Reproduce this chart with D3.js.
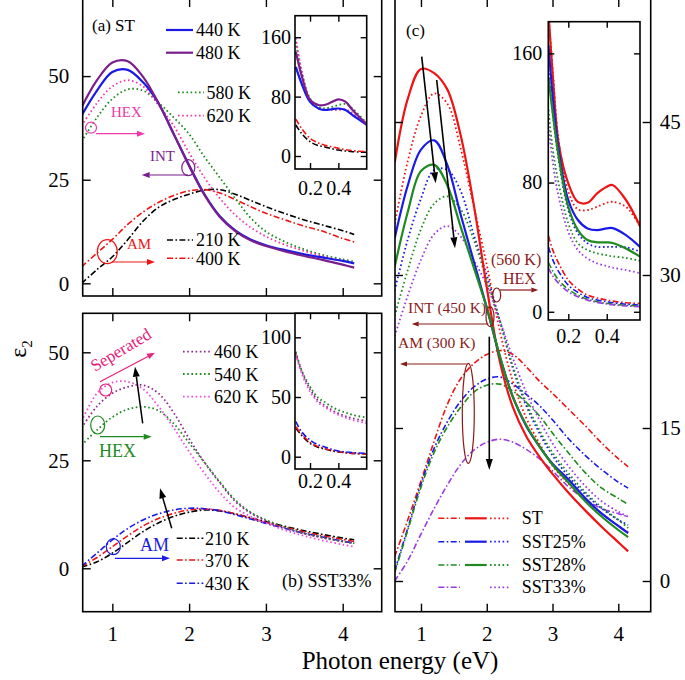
<!DOCTYPE html>
<html><head><meta charset="utf-8">
<script src="https://cdn.jsdelivr.net/npm/d3@7"></script>
<style>body{margin:0;background:#fff} svg text{font-family:"Liberation Serif","DejaVu Serif",serif !important}</style>
</head><body><svg id="c" width="685" height="680"></svg>
<script>
// ---------- DATA ----------
const xMain = [0.6,0.8,1.0,1.2,1.4,1.6,1.8,2.0,2.2,2.4,2.6,2.8,3.0,3.25,3.5,3.75,4.0,4.15];
// panel (a) ST
const a440 = [40.5,46.5,51,51.5,48.5,43.5,36,28.5,21.5,16.2,12.8,10.6,9.2,8,7,6.2,5.4,4.8];
const a480 = [42.5,49,53.3,53.6,49.8,43.5,36,28.3,21.3,16,12.6,10.4,9,7.7,6.6,5.6,4.5,3.8];
const a580 = [34.2,40,44.5,46.8,46.5,43.6,40,36,30.5,25.5,20.5,15.8,12.5,10,8.2,6.8,5.8,5.2];
const a620 = [38,43.5,47.5,49,47.5,43,38,31.5,25.5,20.5,16.5,13.5,11.3,9.3,7.8,6.5,5.4,4.8];
const a210 = [0,3.3,6.4,10.5,15,18.3,20.2,21.5,22.5,22.6,21.5,20,18.5,16.8,15.3,14,12.7,11.8];
const a400 = [4,7.3,10.6,14.2,17.2,19.5,21.2,22.3,22.6,21.8,20.2,18.5,16.9,15.3,13.8,12.5,10.8,10];
// panel (b) SST33%
const b460 = [32.5,37.5,40.5,42,42.4,40.5,36,30,24.5,19.8,15.5,12.8,11,9.3,8,7,6.2,5.8];
const b540 = [28.5,32,35,36.8,37.4,36.5,33.5,29,24.5,20,15.8,13,11.2,9.5,8.1,7.1,6.2,5.8];
const b620 = [34,40.5,43,43.2,41.5,37.5,32.5,27,22,17.5,14,12,10.5,8.8,7.5,6.4,5.5,5];
const b210 = [0.3,1.5,3.5,6,8.5,10.5,12,13,13.5,13.3,12.6,11.7,10.8,9.7,8.7,7.8,7,6.6];
const b370 = [0.4,2.5,5,7.5,9.8,11.5,12.7,13.5,13.7,13.4,12.6,11.6,10.6,9.5,8.4,7.5,6.7,6.2];
const b430 = [0.5,3.5,6.6,9.2,11.2,12.6,13.5,13.9,13.8,13.3,12.4,11.4,10.4,9.2,8.1,7.2,6.3,5.8];
// panel (c): AM (300 K) dash-dot, INT (450 K) solid, HEX (560 K) dotted
const cST_AM  = [2.4,6,9.8,13.7,17.3,19.8,21.3,22.2,22.6,22.2,21,19.6,18.4,16.8,15.2,13.5,12,11.2];
const c25_AM  = [1,5.2,9.5,13,15.6,17.6,19,19.8,20,19.3,18.3,17.2,15.8,13.9,12.3,10.9,9.7,9.1];
const c28_AM  = [0.8,5,9.2,12.6,15.1,17,18.5,19.2,19.3,18.6,17.5,16.2,14.5,12.5,10.6,9.1,8.1,7.5];
const c33_AM  = [0,2,4.6,7.1,9.4,11.4,12.8,13.6,13.9,13.6,12.9,12,10.8,9.2,8,7.1,6.6,6.3];
const cST_INT = [41,47.3,50.2,49.8,48.2,43.8,37,28.8,21.5,17,14.2,12.2,10.5,8.6,6.9,5.3,3.8,2.9];
const c25_INT = [33.6,38.8,42.3,43.2,40.8,36,31.4,26.8,22,18,15.2,13.2,11.5,9.9,8.1,6.6,5.4,4.7];
const c28_INT = [30.8,36.2,40.2,40.8,38.8,34.8,30.8,26.8,22,18,15.3,13.2,11.4,9.6,7.8,6.3,5,4.3];
const cST_HEX = [35,41.2,45.6,47.8,46.8,42.5,36.8,31,24.5,19.5,16,13.5,11.3,9.5,7.9,6.6,5.4,4.8];
const c25_HEX = [28.5,33.5,37.5,40.3,40.3,38.3,34,30,25.5,20.8,17.2,14.5,12.3,10.2,8.5,7.1,6,5.5];
const c28_HEX = [26,30.5,34.5,37,37.7,36.5,33.5,29.5,25.5,21,17.5,14.8,12.6,10.5,8.7,7.2,6,5.2];
const c33_HEX = [24,28,31.5,34,34.8,33.8,31.5,29,25.5,21.8,18.5,15.8,13.5,11.2,9.3,7.8,6.8,6.3];
// insets (a) and (b)
const xIns = [0.1,0.14,0.2,0.26,0.3,0.35,0.4,0.45,0.5,0.6];
const ia440 = [120,98,73,64,62,63,64,62,55,42];
const ia480 = [140.6,109,75.5,68.7,68.7,72.3,76.4,73.2,62,42.7];
const ia580 = [154,113.6,77.7,66.4,64,66,68.7,70,64,44];
const ia620 = [158.6,116,75.5,64,62,62,62,63,57.5,44];
const ia210 = [41.8,30.5,19.3,14,12.6,10,8,6.8,5.8,5];
const ia400 = [49.8,37.3,23.8,17.5,14.8,12.5,10.3,8.5,7.2,5.8];
const ib460 = [86.6,72,56.7,46.5,43.3,39.5,36.3,34,32.2,29.9];
const ib540 = [88,72.6,58.6,49,46,42,39,37,35,32.7];
const ib620 = [85.2,70,54.5,45,41.9,38,35,32.8,30.7,28];
const ib210 = [23.8,18,11.2,7.8,6.5,5,4,3.3,2.8,2.3];
const ib370 = [25.1,19,12,8.3,7,5.4,4.2,3.4,2.8,2.3];
const ib430 = [29.3,21,14,9.8,8.4,6.3,4.8,4,3.4,2.8];
// inset (c)
const xInsC = [0.097,0.12,0.15,0.2,0.25,0.3,0.35,0.4,0.43,0.5,0.575];
const icST_INT = [185,145,104,79.5,68,67.5,73.3,77.4,78.5,69.2,52.6];
const icST_HEX = [185,148,106,74.3,63.4,63,65,67.5,68.1,65,52.6];
const ic25_INT = [165,132,100,69.2,56.8,51.6,50.6,51.6,51.8,47.5,39.9];
const ic25_HEX = [150,122,94,63,48.5,42.4,40.2,40.2,40.2,39.9,37.2];
const ic28_INT = [145,122,96,65,50.6,44.4,43,43,42.6,39.2,34];
const ic28_HEX = [125,100,79.5,54.7,42.4,38.2,36.2,35,34.3,33.3,31.6];
const ic33_HEX = [115,92,71.2,49.5,38.2,33,30,28.3,27.3,25.8,23.8];
const icST_AM = [47,38,30,19.6,14,10.3,8.5,7.2,6.6,5.6,5.2];
const ic25_AM = [40,32,24.8,16.5,12,8.9,7.3,6.2,5.6,4.7,4.1];
const ic28_AM = [30.5,25,19.6,13.9,10.3,7.7,6.2,5.2,4.7,4,3.5];
const ic33_AM = [27,22,17.6,12.4,9.3,7.2,5.8,4.8,4.3,3.6,3.1];
// ticks & labels
const xTicks = [1,2,3,4];
const yTicksAB = [0,25,50];
const yTicksC = [0,15,30,45];
const insX = [0.2,0.4];
const insYA = [0,80,160], insYB = [0,50,100], insYC = [0,80,160];
const legA1 = ["440 K","480 K"], legA2 = ["580 K","620 K"], legA3 = ["210 K","400 K"];
const legB1 = ["460 K","540 K","620 K"], legB2 = ["210 K","370 K","430 K"];
const legC = ["ST","SST25%","SST28%","SST33%"];

// ---------- DRAW ----------
const FONT = "Liberation Serif";
const svg = d3.select("#c");
svg.append("rect").attr("width",685).attr("height",680).attr("fill","#fff");
const COL = {blue:"#1a1ae8", purA:"#7a1e8e", green:"#1f8a1f", pink:"#ee3aa6", red:"#ee1414", black:"#000",
  purB:"#8a2a8a", mag:"#f04ce0", vio:"#9b3ae0", dred:"#8b1a1a", sep:"#e8207a"};
const STY = {solid:{w:2.2,d:null}, dot:{w:1.8,d:"1.6,2.6"}, dd:{w:1.6,d:"6,2.4,1.6,2.4"}};
let clipN = 0;
function clipG(box){
  const id = "cl"+(clipN++);
  svg.append("clipPath").attr("id",id).append("rect")
    .attr("x",box.l).attr("y",box.t).attr("width",box.r-box.l).attr("height",box.b-box.t);
  return svg.append("g").attr("clip-path",`url(#${id})`);
}
function series(g, xs, ys, xa, ya, color, st){
  const line = d3.line().x(d=>xs(d[0])).y(d=>ys(d[1])).curve(d3.curveCatmullRom.alpha(0.5));
  const p = g.append("path").attr("d", line(xa.map((v,i)=>[v,ya[i]])))
    .attr("fill","none").attr("stroke",color).attr("stroke-width",STY[st].w);
  if (STY[st].d) p.attr("stroke-dasharray",STY[st].d);
}
function axes(box, xs, ys, xt, yt, o){
  const tl = o.tick, fs = o.fs;
  const mk = (tr, ax) => {
    const g = svg.append("g").attr("transform",tr).call(ax);
    g.attr("font-family",FONT).attr("font-size",fs);
    g.select(".domain").remove();
    g.selectAll("line").attr("stroke","#000").attr("stroke-width",1.4);
    g.selectAll("text").attr("fill","#000");
    return g;
  };
  mk(`translate(0,${box.b})`, d3.axisBottom(xs).tickValues(xt).tickSize(-tl).tickPadding(o.padB||0).tickFormat(o.labB?o.fx:""));
  mk(`translate(0,${box.t})`, d3.axisTop(xs).tickValues(xt).tickSize(-tl).tickFormat(""));
  mk(`translate(${box.l},0)`, d3.axisLeft(ys).tickValues(yt).tickSize(-tl).tickPadding(o.padL||0).tickFormat(o.labL?d3.format("d"):""));
  mk(`translate(${box.r},0)`, d3.axisRight(ys).tickValues(yt).tickSize(-tl).tickPadding(o.padR||0).tickFormat(o.labR?d3.format("d"):""));
  svg.append("rect").attr("x",box.l).attr("y",box.t).attr("width",box.r-box.l).attr("height",box.b-box.t)
    .attr("fill","none").attr("stroke","#000").attr("stroke-width",o.fw||1.6);
}
function txt(x,y,s,fs,color,anchor){
  return svg.append("text").attr("x",x).attr("y",y).text(s).attr("font-family",FONT)
    .attr("font-size",fs).attr("fill",color||"#000").attr("text-anchor",anchor||"start");
}
function seg(x1,x2,y,color,st){
  const l = svg.append("line").attr("x1",x1).attr("x2",x2).attr("y1",y).attr("y2",y)
    .attr("stroke",color).attr("stroke-width",STY[st].w);
  if (STY[st].d) l.attr("stroke-dasharray",STY[st].d);
}
function arrow(x1,y1,x2,y2,color,w,hl,hw){
  const a = Math.atan2(y2-y1,x2-x1);
  const bx = x2-hl*Math.cos(a), by = y2-hl*Math.sin(a);
  svg.append("line").attr("x1",x1).attr("y1",y1).attr("x2",bx).attr("y2",by).attr("stroke",color).attr("stroke-width",w);
  const px = -Math.sin(a)*hw, py = Math.cos(a)*hw;
  svg.append("path").attr("d",`M${x2},${y2}L${bx+px},${by+py}L${bx-px},${by-py}Z`).attr("fill",color);
}
function ell(cx,cy,rx,ry,color){
  svg.append("ellipse").attr("cx",cx).attr("cy",cy).attr("rx",rx).attr("ry",ry)
    .attr("fill","none").attr("stroke",color).attr("stroke-width",1.2);
}

// ===== Panel (a) =====
const boxA = {l:82.7, r:381.7, t:-1, b:296};
const xA = d3.scaleLinear().domain([0.614,4.508]).range([boxA.l,boxA.r]);
const yA = d3.scaleLinear().domain([-3.06,68.6]).range([boxA.b,boxA.t]);
let g = clipG(boxA);
series(g,xA,yA,xMain,a210,COL.black,"dd");
series(g,xA,yA,xMain,a400,COL.red,"dd");
series(g,xA,yA,xMain,a580,COL.green,"dot");
series(g,xA,yA,xMain,a620,COL.pink,"dot");
series(g,xA,yA,xMain,a440,COL.blue,"solid");
series(g,xA,yA,xMain,a480,COL.purA,"solid");
axes(boxA,xA,yA,xTicks,yTicksAB,{tick:8,fs:21,labL:true,padL:13.5});
// inset (a)
const bIA = {l:295, r:366.7, t:15.7, b:169};
svg.append("rect").attr("x",bIA.l).attr("y",bIA.t).attr("width",bIA.r-bIA.l).attr("height",bIA.b-bIA.t).attr("fill","#fff");
const xIA = d3.scaleLinear().domain([0.094,0.6]).range([bIA.l,bIA.r]);
const yIA = d3.scaleLinear().domain([-17.5,189]).range([bIA.b,bIA.t]);
g = clipG(bIA);
series(g,xIA,yIA,xIns,ia210,COL.black,"dd");
series(g,xIA,yIA,xIns,ia400,COL.red,"dd");
series(g,xIA,yIA,xIns,ia580,COL.green,"dot");
series(g,xIA,yIA,xIns,ia620,COL.pink,"dot");
series(g,xIA,yIA,xIns,ia440,COL.blue,"solid");
series(g,xIA,yIA,xIns,ia480,COL.purA,"solid");
axes(bIA,xIA,yIA,insX,insYA,{tick:6,fs:20,labL:true,padL:4,labB:true,padB:11.5,fx:d3.format(".1f"),fw:1.6});
// annotations (a)
txt(92,31,"(a) ST",17);
seg(166,193,30,COL.blue,"solid"); txt(196,36,legA1[0],18);
seg(166,193,52.7,COL.purA,"solid"); txt(196,59,legA1[1],18);
seg(178,204,92.3,COL.green,"dot"); txt(206.5,98.5,legA2[0],18);
seg(178,204,115.7,COL.pink,"dot"); txt(206.5,122,legA2[1],18);
seg(167,193,240,COL.black,"dd"); txt(196,246,legA3[0],18);
seg(167,193,258.3,COL.red,"dd"); txt(196,265,legA3[1],18);
txt(111,117,"HEX",15,COL.pink); ell(91,127.7,5.5,5.5,COL.pink); arrow(96,133.7,145,133.7,COL.pink,1.2,8,3);
txt(150,161,"INT",15,COL.purA); ell(188.3,167.7,6.5,8,COL.purA); arrow(188,175,141.7,175,COL.purA,1.2,8,3);
txt(127,249,"AM",15,COL.red); ell(107.3,251.7,10,12,COL.red); arrow(112,262,155,262,COL.red,1.2,8,3);

// ===== Panel (b) =====
const boxB = {l:82.7, r:381.7, t:313.3, b:611.7};
const xB = d3.scaleLinear().domain([0.614,4.508]).range([boxB.l,boxB.r]);
const yB = d3.scaleLinear().domain([-10.05,59.03]).range([boxB.b,boxB.t]);
g = clipG(boxB);
series(g,xB,yB,xMain,b210,COL.black,"dd");
series(g,xB,yB,xMain,b370,COL.red,"dd");
series(g,xB,yB,xMain,b430,COL.blue,"dd");
series(g,xB,yB,xMain,b540,COL.green,"dot");
series(g,xB,yB,xMain,b460,COL.purB,"dot");
series(g,xB,yB,xMain,b620,COL.mag,"dot");
axes(boxB,xB,yB,xTicks,yTicksAB,{tick:8,fs:21,labL:true,padL:13.5,labB:true,padB:14,fx:d3.format("d")});
const bIB = {l:295, r:366.7, t:313.3, b:469};
svg.append("rect").attr("x",bIB.l).attr("y",bIB.t).attr("width",bIB.r-bIB.l).attr("height",bIB.b-bIB.t).attr("fill","#fff");
const xIB = d3.scaleLinear().domain([0.094,0.6]).range([bIB.l,bIB.r]);
const yIB = d3.scaleLinear().domain([-10.3,120.1]).range([bIB.b,bIB.t]);
g = clipG(bIB);
series(g,xIB,yIB,xIns,ib210,COL.black,"dd");
series(g,xIB,yIB,xIns,ib370,COL.red,"dd");
series(g,xIB,yIB,xIns,ib430,COL.blue,"dd");
series(g,xIB,yIB,xIns,ib540,COL.green,"dot");
series(g,xIB,yIB,xIns,ib460,COL.purB,"dot");
series(g,xIB,yIB,xIns,ib620,COL.mag,"dot");
axes(bIB,xIB,yIB,insX,insYB,{tick:6,fs:20,labL:true,padL:4,labB:true,padB:5,fx:d3.format(".1f")});
// annotations (b)
seg(183,212,351.7,COL.purB,"dot"); txt(214,358,legB1[0],18);
seg(183,212,374,COL.green,"dot"); txt(214,380.5,legB1[1],18);
seg(183,212,396.7,COL.mag,"dot"); txt(214,403,legB1[2],18);
seg(176.7,203.3,538.3,COL.black,"dd"); txt(205,545,legB2[0],18);
seg(176.7,203.3,560,COL.red,"dd"); txt(205,566.5,legB2[1],18);
seg(176.7,203.3,583.3,COL.blue,"dd"); txt(205,590,legB2[2],18);
txt(282,586.5,"(b) SST33%",18);
txt(0,0,"Seperated",17,COL.sep).attr("transform","translate(95,372) rotate(-31)");
arrow(100,381.7,155,352.7,COL.sep,1.2,8,3);
ell(105.7,390,6,6,COL.sep);
arrow(142.7,423.3,135,366.7,"#000",1.5,10,3.5);
ell(97.7,425,7,9,COL.green); arrow(100,436.7,151.7,436.7,COL.green,1.2,8,3);
txt(99,457,"HEX",18,COL.green);
arrow(171.7,528.3,160,488.3,"#000",1.5,10,3.5);
ell(113.3,546.7,7,8,COL.blue); arrow(115,558.3,170,558.3,COL.blue,1.2,8,3);
txt(140,551,"AM",18,COL.blue);

// ===== Panel (c) =====
const boxC = {l:395, r:650.7, t:-1, b:611.7};
const xC = d3.scaleLinear().domain([0.605,4.493]).range([boxC.l,boxC.r]);
const yC = d3.scaleLinear().domain([-3.01,57.06]).range([boxC.b,boxC.t]);
g = clipG(boxC);
series(g,xC,yC,xMain,cST_AM,COL.red,"dd");
series(g,xC,yC,xMain,c25_AM,COL.blue,"dd");
series(g,xC,yC,xMain,c28_AM,COL.green,"dd");
series(g,xC,yC,xMain,c33_AM,COL.vio,"dd");
series(g,xC,yC,xMain,cST_HEX,COL.red,"dot");
series(g,xC,yC,xMain,c25_HEX,COL.blue,"dot");
series(g,xC,yC,xMain,c28_HEX,COL.green,"dot");
series(g,xC,yC,xMain,c33_HEX,COL.vio,"dot");
series(g,xC,yC,xMain,cST_INT,COL.red,"solid");
series(g,xC,yC,xMain,c25_INT,COL.blue,"solid");
series(g,xC,yC,xMain,c28_INT,COL.green,"solid");
axes(boxC,xC,yC,xTicks,yTicksC,{tick:8,fs:21,labR:true,padR:9,labB:true,padB:14,fx:d3.format("d")});
const bIC = {l:548.3, r:640, t:21.7, b:320};
svg.append("rect").attr("x",bIC.l).attr("y",bIC.t).attr("width",bIC.r-bIC.l).attr("height",bIC.b-bIC.t).attr("fill","#fff");
const xIC = d3.scaleLinear().domain([0.096,0.573]).range([bIC.l,bIC.r]);
const yIC = d3.scaleLinear().domain([-5.1,179.6]).range([bIC.b,bIC.t]);
g = clipG(bIC);
series(g,xIC,yIC,xInsC,icST_AM,COL.red,"dd");
series(g,xIC,yIC,xInsC,ic25_AM,COL.blue,"dd");
series(g,xIC,yIC,xInsC,ic28_AM,COL.green,"dd");
series(g,xIC,yIC,xInsC,ic33_AM,COL.vio,"dd");
series(g,xIC,yIC,xInsC,icST_HEX,COL.red,"dot");
series(g,xIC,yIC,xInsC,ic25_HEX,COL.blue,"dot");
series(g,xIC,yIC,xInsC,ic28_HEX,COL.green,"dot");
series(g,xIC,yIC,xInsC,ic33_HEX,COL.vio,"dot");
series(g,xIC,yIC,xInsC,icST_INT,COL.red,"solid");
series(g,xIC,yIC,xInsC,ic25_INT,COL.blue,"solid");
series(g,xIC,yIC,xInsC,ic28_INT,COL.green,"solid");
axes(bIC,xIC,yIC,insX,insYC,{tick:6,fs:20,labL:true,padL:6,labB:true,padB:8.5,fx:d3.format(".1f")});
// annotations (c)
txt(406,36,"(c)",17);
arrow(421.7,56.7,435.7,183.3,"#000",1.6,11,3.5);
arrow(436.7,80,455,248.3,"#000",1.6,11,3.5);
arrow(489.3,336.7,489.3,470,"#000",1.6,11,3.5);
txt(491,265,"(560 K)",16,COL.dred);
txt(503,283.5,"HEX",16,COL.dred);
ell(496.7,295,4,7,COL.dred); arrow(500,290,538.3,290,COL.dred,1.2,7,2.5);
txt(408,313,"INT (450 K)",15.5,COL.dred);
ell(490,316.7,4,10,COL.dred); arrow(488.3,324,411.7,324,COL.dred,1.2,7,2.5);
txt(398,348,"AM (300 K)",15.5,COL.dred);
ell(468.3,413.3,6,50,COL.dred); arrow(466.7,364,400,364,COL.dred,1.2,7,2.5);
const legCols = [COL.red,COL.blue,COL.green,COL.vio];
const legRows = [518.3,541.7,565,587.3];
legC.forEach((s,i)=>{
  seg(438.3,460,legRows[i],legCols[i],"dd");
  if (i<3) seg(465,486.7,legRows[i],legCols[i],"solid");
  seg(490,510,legRows[i],legCols[i],"dot");
  txt(521.7,legRows[i]+6,s,18);
});

// axis titles
txt(400,669,"Photon energy (eV)",25,"#000","middle");
const eps = svg.append("text").attr("transform","translate(26,349) rotate(-90)").attr("text-anchor","middle")
  .attr("font-family",FONT).attr("font-size",24);
eps.append("tspan").text("ε");
eps.append("tspan").text("2").attr("font-size",15).attr("dy",6);
</script></body></html>
